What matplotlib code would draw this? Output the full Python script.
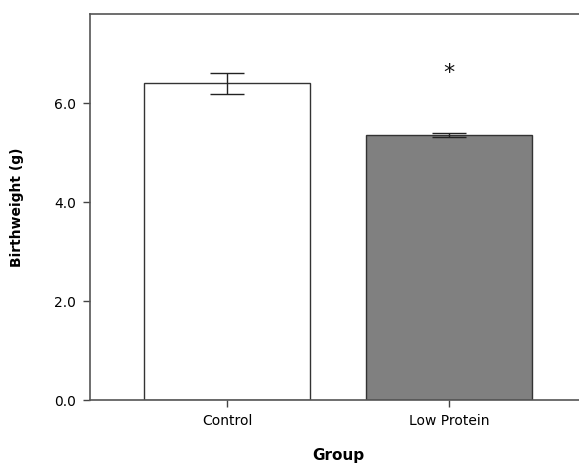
import numpy as np
import matplotlib.pyplot as plt

groups = ["Control", "Low Protein"]
means = [6.40, 5.35]
errors = [0.21, 0.045]
bar_colors = ["#ffffff", "#808080"]
y_ticks = [0.0, 2.0, 4.0, 6.0]

fig = plt.figure(figsize=(5.79, 4.66), dpi=100)
# axes extends past the right edge, like the original crop
ax = fig.add_axes([90 / 579, 66 / 466, 510 / 579, 386 / 466])

x = np.arange(len(groups))
ax.bar(x, means, width=0.75, color=bar_colors, edgecolor="#333333", linewidth=1.0, zorder=2)
ax.errorbar(x, means, yerr=errors, fmt="none", ecolor="#222222", elinewidth=1.0,
            capsize=12, capthick=1.0, zorder=3)

# significance marker over low protein
ax.text(x[1], 6.6, "*", ha="center", va="center", fontsize=16, color="#111111")

ax.set_xlim(-0.617, -0.617 + 510 / 222)
ax.set_ylim(0, 7.8)
ax.set_xticks(x)
ax.set_xticklabels(groups, fontsize=10)
ax.set_yticks(y_ticks)
ax.set_yticklabels([f"{v:.1f}" for v in y_ticks], fontsize=10)
ax.tick_params(direction="out", length=5, width=1, color="#444444", pad=5)

for side in ["left", "bottom", "top", "right"]:
    ax.spines[side].set_color("#555555")
    ax.spines[side].set_linewidth(1.2)

ax.set_xlabel("Group", fontsize=11, fontweight="bold")
ax.xaxis.set_label_coords((338 - 90) / 510, -0.125)
ax.set_ylabel("Birthweight (g)", fontsize=10, fontweight="bold", labelpad=22)

fig.savefig("out.png", dpi=100)
